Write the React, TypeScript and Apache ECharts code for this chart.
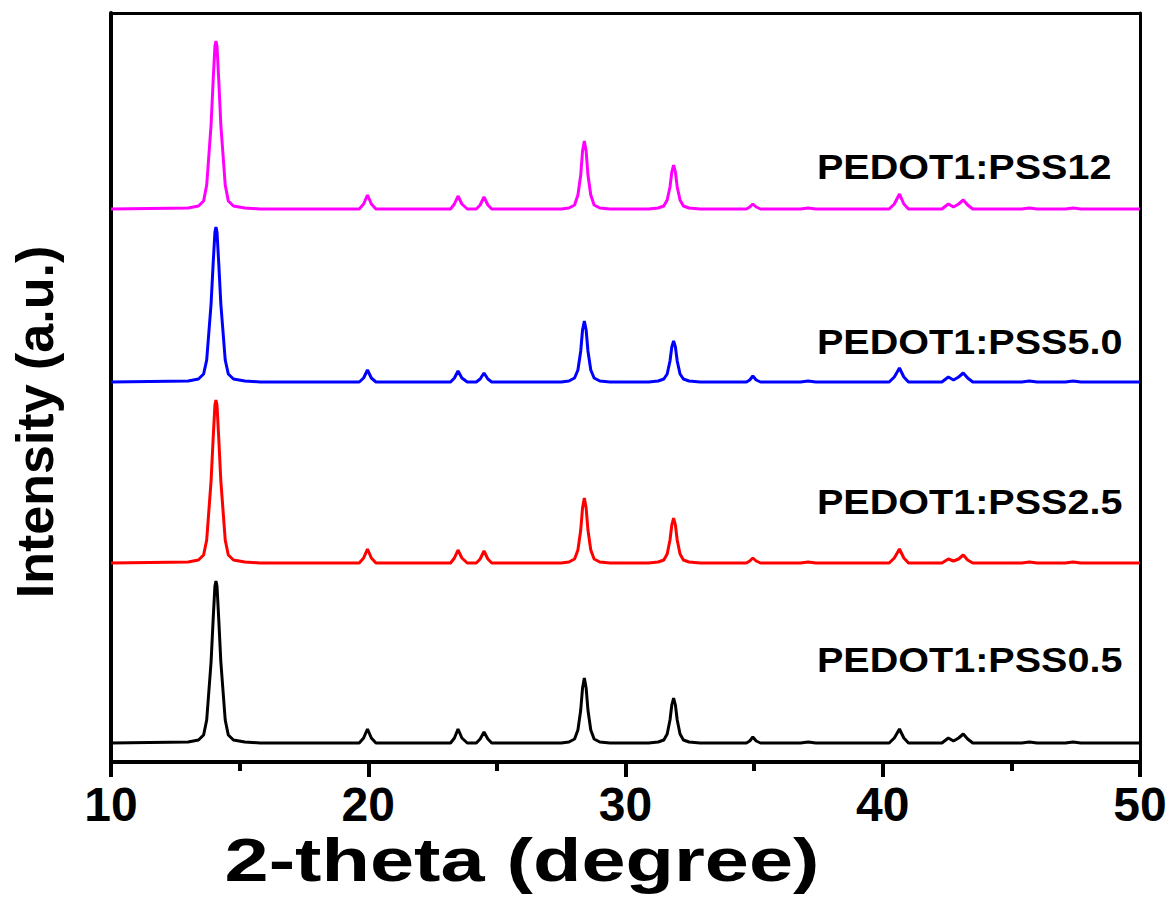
import React, { useEffect, useRef } from "react";
import * as echarts from "echarts";

type Pt = [number, number];

const seriesNames = ["PEDOT1:PSS0.5", "PEDOT1:PSS2.5", "PEDOT1:PSS5.0", "PEDOT1:PSS12"];
const seriesColors = ["#000000", "#ff0000", "#0000ff", "#ff00ff"];
const baselines = [19, 199, 380, 553];
const xTicks = [10, 20, 30, 40, 50];

const pss05: Pt[] = [
  [10, 0], [13.0, 1], [13.4, 3], [13.6, 8], [13.72, 23], [13.89, 81], [13.97, 123], [14.04, 157], [14.08, 162],
  [14.12, 157], [14.19, 123], [14.27, 81], [14.44, 23], [14.56, 8], [14.76, 3], [15.2, 1], [15.8, 0],
  [19.65, 0], [19.82, 5], [19.97, 14], [20.12, 5], [20.3, 0],
  [23.2, 0], [23.35, 5], [23.49, 14], [23.64, 5], [23.85, 0],
  [24.2, 0], [24.35, 4], [24.5, 11], [24.65, 4], [24.8, 0],
  [27.5, 0], [27.8, 1], [28.02, 4], [28.15, 13], [28.26, 33], [28.33, 55], [28.4, 65],
  [28.47, 55], [28.54, 33], [28.65, 13], [28.78, 4], [29.0, 1], [29.4, 0],
  [30.9, 0], [31.27, 1], [31.49, 3], [31.62, 9], [31.73, 23], [31.8, 38], [31.87, 45],
  [31.94, 38], [32.01, 23], [32.12, 9], [32.25, 3], [32.47, 1], [32.9, 0],
  [34.7, 0], [34.83, 2], [34.95, 6], [35.08, 2], [35.25, 0],
  [36.8, 0], [37.1, 1], [37.4, 0],
  [40.25, 0], [40.45, 5], [40.65, 14], [40.82, 5], [41.0, 0],
  [42.3, 0], [42.55, 5], [42.75, 2], [42.95, 5], [43.13, 9], [43.3, 4], [43.5, 0],
  [45.4, 0], [45.7, 1], [46.0, 0],
  [47.1, 0], [47.4, 1], [47.7, 0], [50, 0],
];

const pss25: Pt[] = [
  [10, 0], [13.0, 1], [13.4, 3], [13.6, 8], [13.72, 23], [13.89, 82], [13.97, 124], [14.04, 158], [14.08, 163],
  [14.12, 158], [14.19, 124], [14.27, 82], [14.44, 23], [14.56, 8], [14.76, 3], [15.2, 1], [15.8, 0],
  [19.65, 0], [19.82, 5], [19.97, 14], [20.12, 5], [20.3, 0],
  [23.2, 0], [23.35, 5], [23.49, 13], [23.64, 5], [23.85, 0],
  [24.2, 0], [24.35, 4], [24.5, 12], [24.65, 4], [24.8, 0],
  [27.5, 0], [27.8, 1], [28.02, 4], [28.15, 13], [28.26, 33], [28.33, 55], [28.4, 65],
  [28.47, 55], [28.54, 33], [28.65, 13], [28.78, 4], [29.0, 1], [29.4, 0],
  [30.9, 0], [31.27, 1], [31.49, 3], [31.62, 9], [31.73, 23], [31.8, 38], [31.87, 45],
  [31.94, 38], [32.01, 23], [32.12, 9], [32.25, 3], [32.47, 1], [32.9, 0],
  [34.7, 0], [34.83, 2], [34.95, 5], [35.08, 2], [35.25, 0],
  [36.8, 0], [37.1, 1], [37.4, 0],
  [40.25, 0], [40.45, 5], [40.65, 14], [40.82, 5], [41.0, 0],
  [42.3, 0], [42.55, 4], [42.75, 2], [42.95, 4], [43.13, 8], [43.3, 3], [43.5, 0],
  [45.4, 0], [45.7, 1], [46.0, 0],
  [47.1, 0], [47.4, 1], [47.7, 0], [50, 0],
];

const pss50: Pt[] = [
  [10, 0], [13.0, 1], [13.4, 3], [13.6, 8], [13.72, 22], [13.89, 78], [13.97, 118], [14.04, 150], [14.08, 155],
  [14.12, 150], [14.19, 118], [14.27, 78], [14.44, 22], [14.56, 8], [14.76, 3], [15.2, 1], [15.8, 0],
  [19.65, 0], [19.82, 4], [19.97, 12], [20.12, 4], [20.3, 0],
  [23.2, 0], [23.35, 4], [23.49, 11], [23.64, 4], [23.85, 0],
  [24.2, 0], [24.35, 3], [24.5, 9], [24.65, 3], [24.8, 0],
  [27.5, 0], [27.8, 1], [28.02, 4], [28.15, 12], [28.26, 31], [28.33, 52], [28.4, 61],
  [28.47, 52], [28.54, 31], [28.65, 12], [28.78, 4], [29.0, 1], [29.4, 0],
  [30.9, 0], [31.27, 1], [31.49, 3], [31.62, 8], [31.73, 21], [31.8, 35], [31.87, 41],
  [31.94, 35], [32.01, 21], [32.12, 8], [32.25, 3], [32.47, 1], [32.9, 0],
  [34.7, 0], [34.83, 2], [34.95, 6], [35.08, 2], [35.25, 0],
  [36.8, 0], [37.1, 1], [37.4, 0],
  [40.25, 0], [40.45, 5], [40.65, 14], [40.82, 5], [41.0, 0],
  [42.3, 0], [42.55, 5], [42.75, 2], [42.95, 5], [43.13, 9], [43.3, 4], [43.5, 0],
  [45.4, 0], [45.7, 1], [46.0, 0],
  [47.1, 0], [47.4, 1], [47.7, 0], [50, 0],
];

const pss12: Pt[] = [
  [10, 0], [13.0, 1], [13.4, 3], [13.6, 8], [13.72, 24], [13.89, 84], [13.97, 128], [14.04, 163], [14.08, 168],
  [14.12, 163], [14.19, 128], [14.27, 84], [14.44, 24], [14.56, 8], [14.76, 3], [15.2, 1], [15.8, 0],
  [19.65, 0], [19.82, 5], [19.97, 14], [20.12, 5], [20.3, 0],
  [23.2, 0], [23.35, 5], [23.49, 13], [23.64, 5], [23.85, 0],
  [24.2, 0], [24.35, 4], [24.5, 12], [24.65, 4], [24.8, 0],
  [27.5, 0], [27.8, 1], [28.02, 4], [28.15, 14], [28.26, 34], [28.33, 58], [28.4, 68],
  [28.47, 58], [28.54, 34], [28.65, 14], [28.78, 4], [29.0, 1], [29.4, 0],
  [30.9, 0], [31.27, 1], [31.49, 3], [31.62, 9], [31.73, 22], [31.8, 37], [31.87, 44],
  [31.94, 37], [32.01, 22], [32.12, 9], [32.25, 3], [32.47, 1], [32.9, 0],
  [34.7, 0], [34.83, 2], [34.95, 5], [35.08, 2], [35.25, 0],
  [36.8, 0], [37.1, 1], [37.4, 0],
  [40.25, 0], [40.45, 5], [40.65, 15], [40.82, 5], [41.0, 0],
  [42.3, 0], [42.55, 5], [42.75, 2], [42.95, 5], [43.13, 9], [43.3, 4], [43.5, 0],
  [45.4, 0], [45.7, 1], [46.0, 0],
  [47.1, 0], [47.4, 1], [47.7, 0], [50, 0],
];

const seriesData = [pss05, pss25, pss50, pss12];
const labelY = [660, 502, 342, 167];

const FONT = "'Liberation Sans', Arial, Helvetica, sans-serif";

export default function App() {
  const ref = useRef<HTMLDivElement>(null);
  useEffect(() => {
    if (!ref.current) return;
    const chart = echarts.init(ref.current, null, { renderer: "svg" });
    const series = seriesData.map((pts, i) => ({
      name: seriesNames[i],
      type: "line",
      showSymbol: false,
      symbol: "none",
      data: pts.map(([x, y]) => [x, y + baselines[i]]),
      lineStyle: { color: seriesColors[i], width: 3 },
      itemStyle: { color: seriesColors[i] },
      z: 3,
    }));
    const graphics: any[] = seriesNames.map((n, i) => ({
      type: "text",
      x: 817,
      y: labelY[i],
      scaleX: 1.13,
      style: {
        text: n,
        fill: "#000",
        font: `bold 35px ${FONT}`,
        textAlign: "left",
        textVerticalAlign: "middle",
      },
    }));
    graphics.push({
      type: "text",
      x: 522,
      y: 860,
      scaleX: 1.3,
      style: {
        text: "2-theta (degree)",
        fill: "#000",
        font: `bold 61px ${FONT}`,
        textAlign: "center",
        textVerticalAlign: "middle",
      },
    });
    graphics.push({
      type: "text",
      x: 35,
      y: 422,
      rotation: Math.PI / 2,
      style: {
        text: "Intensity (a.u.)",
        fill: "#000",
        font: `bold 52px ${FONT}`,
        textAlign: "center",
        textVerticalAlign: "middle",
      },
    });
    chart.setOption({
      animation: false,
      backgroundColor: "#ffffff",
      grid: { left: 111, right: 31, top: 13, bottom: 137, containLabel: false, outerBoundsMode: "none" },
      xAxis: [
        {
          type: "value",
          position: "bottom",
          min: xTicks[0],
          max: xTicks[xTicks.length - 1],
          interval: 10,
          axisLine: { show: true, onZero: false, lineStyle: { color: "#000", width: 4 } },
          axisTick: { show: true, length: 15, lineStyle: { color: "#000", width: 4 } },
          minorTick: { show: true, splitNumber: 2, length: 9, lineStyle: { color: "#000", width: 4 } },
          splitLine: { show: false },
          axisLabel: { color: "#000", fontSize: 48, fontWeight: "bold", fontFamily: FONT, margin: 18 },
        },
        {
          type: "value",
          position: "top",
          min: 10,
          max: 50,
          axisLine: { show: true, onZero: false, lineStyle: { color: "#000", width: 3 } },
          axisTick: { show: false },
          axisLabel: { show: false },
          splitLine: { show: false },
        },
      ],
      yAxis: [
        {
          type: "value",
          position: "left",
          min: 0,
          max: 749,
          axisLine: { show: true, onZero: false, lineStyle: { color: "#000", width: 4 } },
          axisTick: { show: false },
          axisLabel: { show: false },
          splitLine: { show: false },
        },
        {
          type: "value",
          position: "right",
          min: 0,
          max: 749,
          axisLine: { show: true, onZero: false, lineStyle: { color: "#000", width: 3 } },
          axisTick: { show: false },
          axisLabel: { show: false },
          splitLine: { show: false },
        },
      ],
      series,
      graphic: graphics,
    });
    return () => chart.dispose();
  }, []);
  return (
    <div
      ref={ref}
      style={{ position: "fixed", left: 0, top: 0, width: 1171, height: 899, background: "#fff" }}
    />
  );
}
